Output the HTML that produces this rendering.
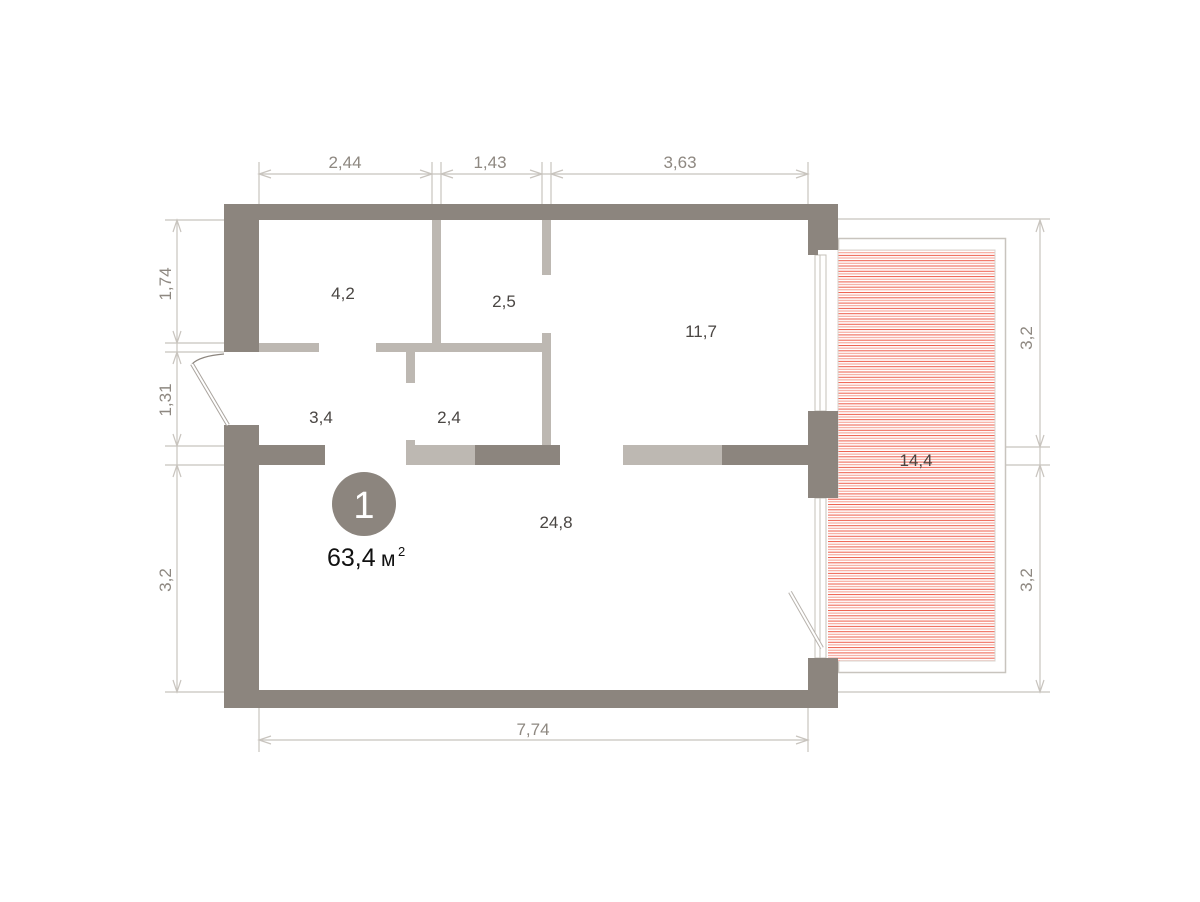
<!DOCTYPE html>
<html><head><meta charset="utf-8"><style>
html,body{margin:0;padding:0;background:#fff}
svg{display:block}
text{font-family:"Liberation Sans",sans-serif}
</style></head><body>
<svg width="1200" height="902" viewBox="0 0 1200 902" xmlns="http://www.w3.org/2000/svg">
<defs>
<pattern id="h" width="10" height="5.3" patternUnits="userSpaceOnUse">
<rect width="10" height="5.3" fill="#fff"/>
<line x1="0" y1="1" x2="10" y2="1" stroke="#ee5a48" stroke-width="1"/>
<line x1="0" y1="3.6" x2="10" y2="3.6" stroke="#f59a8c" stroke-width="1"/>
</pattern>
</defs>
<!-- balcony -->
<rect x="838.5" y="238.5" width="167" height="434" fill="none" stroke="#c8c4be" stroke-width="1.5"/>
<rect x="838" y="250" width="157" height="411" fill="url(#h)" stroke="#d8d4cf" stroke-width="1"/>
<rect x="828" y="498" width="12" height="163" fill="url(#h)"/>
<!-- windows -->
<g fill="#fff" stroke="#c4c0ba" stroke-width="1">
<rect x="815" y="255" width="11" height="156"/>
<line x1="820" y1="255" x2="820" y2="411"/>
<rect x="815" y="498" width="11" height="160"/>
<line x1="820" y1="498" x2="820" y2="658"/>
</g>
<line x1="790" y1="592" x2="822" y2="648" stroke="#b8b3ad" stroke-width="4"/>
<line x1="790" y1="592" x2="822" y2="648" stroke="#fff" stroke-width="2"/>
<!-- dimension lines -->
<g stroke="#c8c4be" stroke-width="1.2" fill="none">
<line x1="259" y1="174" x2="808" y2="174"/>
<line x1="259" y1="162" x2="259" y2="204"/>
<line x1="432" y1="162" x2="432" y2="204"/>
<line x1="441" y1="162" x2="441" y2="204"/>
<line x1="542" y1="162" x2="542" y2="204"/>
<line x1="551" y1="162" x2="551" y2="204"/>
<line x1="808" y1="162" x2="808" y2="204"/>
<line x1="177" y1="220" x2="177" y2="692"/>
<line x1="165" y1="220" x2="224" y2="220"/>
<line x1="165" y1="343" x2="224" y2="343"/>
<line x1="165" y1="352" x2="224" y2="352"/>
<line x1="165" y1="446" x2="224" y2="446"/>
<line x1="165" y1="465" x2="224" y2="465"/>
<line x1="165" y1="692" x2="224" y2="692"/>
<line x1="1040" y1="220" x2="1040" y2="692"/>
<line x1="838" y1="219" x2="1050" y2="219"/>
<line x1="1006" y1="447" x2="1050" y2="447"/>
<line x1="1006" y1="465" x2="1050" y2="465"/>
<line x1="838" y1="692" x2="1050" y2="692"/>
<line x1="259" y1="740" x2="808" y2="740"/>
<line x1="259" y1="708" x2="259" y2="752"/>
<line x1="808" y1="708" x2="808" y2="752"/>
<path d="M271 170 L259 174 L271 178 M420 170 L432 174 L420 178 M453 170 L441 174 L453 178 M530 170 L542 174 L530 178 M563 170 L551 174 L563 178 M796 170 L808 174 L796 178"/>
<path d="M271 736 L259 740 L271 744 M796 736 L808 740 L796 744"/>
<path d="M173 232 L177 220 L181 232 M173 331 L177 343 L181 331 M173 364 L177 352 L181 364 M173 434 L177 446 L181 434 M173 477 L177 465 L181 477 M173 680 L177 692 L181 680"/>
<path d="M1036 232 L1040 220 L1044 232 M1036 435 L1040 447 L1044 435 M1036 477 L1040 465 L1044 477 M1036 680 L1040 692 L1044 680"/>
</g>
<!-- light partitions -->
<g fill="#bdb8b2">
<rect x="432" y="220" width="9" height="132"/>
<rect x="542" y="220" width="9" height="55"/>
<rect x="259" y="343" width="60" height="9"/>
<rect x="376" y="343" width="175" height="9"/>
<rect x="542" y="333" width="9" height="112"/>
<rect x="406" y="352" width="9" height="31"/>
<rect x="406" y="440" width="9" height="10"/>
<rect x="406" y="445" width="69" height="20"/>
<rect x="623" y="445" width="99" height="20"/>
</g>
<!-- main walls -->
<g fill="#8c857e">
<rect x="224" y="204" width="614" height="16"/>
<rect x="224" y="204" width="35" height="148"/>
<rect x="224" y="425" width="35" height="283"/>
<rect x="224" y="690" width="614" height="18"/>
<rect x="259" y="445" width="66" height="20"/>
<rect x="475" y="445" width="85" height="20"/>
<rect x="722" y="445" width="86" height="20"/>
<rect x="808" y="204" width="30" height="46"/>
<rect x="808" y="204" width="10" height="51"/>
<rect x="808" y="411" width="30" height="87"/>
<rect x="808" y="658" width="30" height="50"/>
</g>
<!-- entrance door -->
<path d="M224 354 Q200 356 192 364" fill="none" stroke="#8c857e" stroke-width="1.2"/>
<line x1="192" y1="364" x2="228" y2="425" stroke="#aaa49e" stroke-width="4"/>
<line x1="192" y1="364" x2="228" y2="425" stroke="#fff" stroke-width="2"/>
<!-- circle -->
<circle cx="364" cy="504" r="32" fill="#8c857e"/>
<text x="364" y="518" text-anchor="middle" font-size="38" fill="#fff">1</text>
<text x="327" y="566" font-size="25" fill="#111">63,4</text>
<text x="381" y="566" font-size="21" fill="#111">м</text>
<text x="398" y="556" font-size="13" fill="#111">2</text>
<!-- area labels -->
<g fill="#4a4643" font-size="17" text-anchor="middle">
<text x="343" y="299">4,2</text>
<text x="504" y="307">2,5</text>
<text x="701" y="337">11,7</text>
<text x="321" y="423">3,4</text>
<text x="449" y="423">2,4</text>
<text x="556" y="528">24,8</text>
<text x="916" y="466">14,4</text>
</g>
<!-- dimension labels -->
<g fill="#8e8881" font-size="17" text-anchor="middle">
<text x="345" y="168">2,44</text>
<text x="490" y="168">1,43</text>
<text x="680" y="168">3,63</text>
<text x="533" y="735">7,74</text>
<text transform="translate(171,284) rotate(-90)">1,74</text>
<text transform="translate(171,400) rotate(-90)">1,31</text>
<text transform="translate(171,580) rotate(-90)">3,2</text>
<text transform="translate(1032,338) rotate(-90)">3,2</text>
<text transform="translate(1032,580) rotate(-90)">3,2</text>
</g>
</svg>
</body></html>
